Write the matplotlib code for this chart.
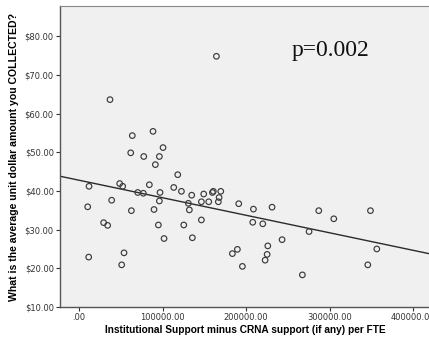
import numpy as np
import matplotlib
matplotlib.use("Agg")
import matplotlib.pyplot as plt
from matplotlib.ticker import FuncFormatter

# support per FTE (x) vs average unit dollar amount collected (y)
support = [
    61900, 100600, 77500, 96200, 91400, 118200, 12000, 48700, 52300, 84200,
    113400, 122600, 70300, 77000, 97000, 10400, 39100, 62700, 89800, 96200,
    29500, 34300, 95000, 125400, 101800, 53900, 11600, 51100, 130900, 132100,
    135700, 134900, 149300, 146500, 155300, 159700, 160800, 169700, 167700, 166800,
    146500, 191200, 208800, 231100, 208000, 220000, 189600, 183600, 195600, 226000,
    225200, 222800, 243100, 267400, 275400, 287000, 305000, 348900, 356500, 345700,
    37100, 63800, 88600, 164500,
]
collected = [
    49.85, 51.2, 48.9, 48.9, 46.8, 44.2, 41.2, 41.9, 41.2, 41.6,
    40.9, 39.9, 39.6, 39.4, 39.6, 35.9, 37.6, 34.9, 35.2, 37.4,
    31.8, 31.1, 31.2, 31.2, 27.7, 24.0, 22.9, 20.9, 36.8, 35.1,
    27.9, 38.9, 39.2, 37.2, 37.2, 39.6, 39.9, 39.9, 38.3, 37.2,
    32.5, 36.7, 35.3, 35.8, 31.9, 31.5, 24.9, 23.8, 20.5, 25.8,
    23.6, 22.1, 27.4, 18.3, 29.5, 34.9, 32.8, 34.9, 25.0, 20.9,
    63.6, 54.3, 55.4, 74.8,
]

# fit line as drawn in the original (intercept, slope per $)
fit_intercept = 42.77
fit_slope = -4.53e-5

x_ticks = [0, 100000, 200000, 300000, 400000]
y_ticks = [10, 20, 30, 40, 50, 60, 70, 80]
p_label = "p=0.002"

fig = plt.figure(figsize=(4.29, 3.43), dpi=100)
ax = fig.add_axes([60 / 429, 1 - 307 / 343, 1 - 60 / 429 + 0.002, 301 / 343])
ax.set_facecolor("#f0f0f0")

ax.scatter(support, collected, s=16, facecolors="none", edgecolors="#3a3a3a",
           linewidths=0.85, zorder=3)

xlim = (-22750, 420000)
xs = np.array(xlim)
ax.plot(xs, fit_intercept + fit_slope * xs, color="#2a2a2a", lw=1.0, zorder=2)

ax.set_xlim(*xlim)
ax.set_ylim(10, 87.8)
ax.set_xticks(x_ticks)
ax.set_yticks(y_ticks)
ax.xaxis.set_major_formatter(FuncFormatter(lambda v, _: ".00" if v == 0 else f"{v:.2f}"))
ax.yaxis.set_major_formatter(FuncFormatter(lambda v, _: f"${v:.2f}"))
ax.tick_params(labelsize=6, colors="#333333", length=3, width=0.8, pad=1.5)

for side in ["left", "bottom"]:
    ax.spines[side].set_color("#555555")
    ax.spines[side].set_linewidth(1.0)
ax.spines["top"].set_color("#888888")
ax.spines["right"].set_visible(False)

ax.text(255000, 76.4, p_label, fontsize=17, family="Liberation Serif",
        va="center", ha="left", color="#111111")

ax.set_xlabel("Institutional Support minus CRNA support (if any) per FTE",
              fontsize=7.3, fontweight="bold", family="Liberation Sans", labelpad=2)
ax.set_ylabel("What is the average unit dollar amount you COLLECTED?",
              fontsize=7.6, fontweight="bold", family="Liberation Sans", labelpad=4)

fig.savefig("out.png", dpi=100)
